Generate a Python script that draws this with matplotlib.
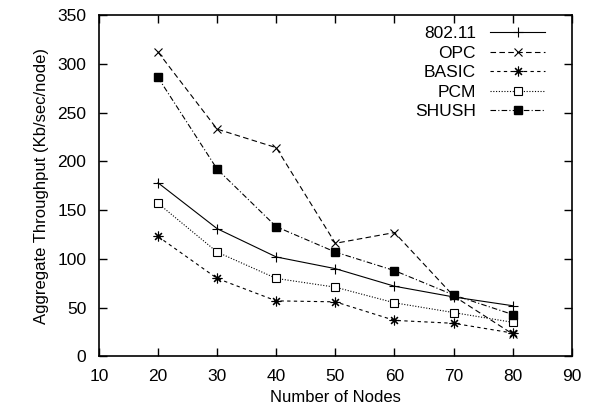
import numpy as np
import matplotlib
matplotlib.use("Agg")
import matplotlib.pyplot as plt

plt.rcParams['font.family'] = ['Liberation Sans', 'DejaVu Sans']

# Données
nodes   = [20, 30, 40, 50, 60, 70, 80]
ieee    = [178, 131, 102, 90, 72, 61, 52]
opc     = [312, 233, 214, 116, 127, 62, 23]
basic   = [123, 80, 57, 56, 37, 34, 24]
pcm     = [157, 107, 80, 71, 55, 45, 35]
shush   = [286, 192, 133, 107, 88, 63, 43]

fig = plt.figure(figsize=(5.92, 4.15), dpi=100)
ax = fig.add_axes([0.167, 0.141, 0.799, 0.823])

lw = 0.8
ax.plot(nodes, ieee, color="black", linestyle="-", linewidth=lw,
        marker="+", markersize=7, markeredgewidth=0.8, label="802.11")
ax.plot(nodes, opc, color="black", linestyle=(0, (5, 3)), linewidth=lw,
        marker="x", markersize=6, markeredgewidth=0.8, label="OPC")
ax.plot(nodes, basic, color="black", linestyle=(0, (3, 3)), linewidth=lw,
        marker=(8, 2, 0), markersize=7, markeredgewidth=0.8, label="BASIC")
ax.plot(nodes, pcm, color="black", linestyle=(0, (1, 1.5)), linewidth=lw,
        marker="s", markersize=5.5, markerfacecolor="white", markeredgewidth=0.8,
        label="PCM")
ax.plot(nodes, shush, color="black", linestyle=(0, (5, 2, 1, 2)), linewidth=lw,
        marker="s", markersize=6, markerfacecolor="black", label="SHUSH")

ax.set_xlim(10, 90)
ax.set_ylim(0, 350)
ax.set_xticks(np.arange(10, 91, 10))
ax.set_yticks(np.arange(0, 351, 50))
ax.tick_params(direction="in", top=True, right=True, length=6, width=1,
               labelsize=12.5)
ax.tick_params(axis="y", pad=9)
ax.tick_params(axis="x", pad=9)
for s in ax.spines.values():
    s.set_linewidth(1.2)

ax.set_xlabel("Number of Nodes", fontsize=12, labelpad=4)
ax.set_ylabel("Aggregate Throughput (Kb/sec/node)", fontsize=12, labelpad=6)

ax.legend(loc="upper right", bbox_to_anchor=(0.955, 0.983), frameon=False,
          markerfirst=False, fontsize=12.5, handlelength=3.2,
          labelspacing=0.25, borderaxespad=0, handletextpad=0.8,
          borderpad=0.3)

plt.savefig("out.png", dpi=100)
